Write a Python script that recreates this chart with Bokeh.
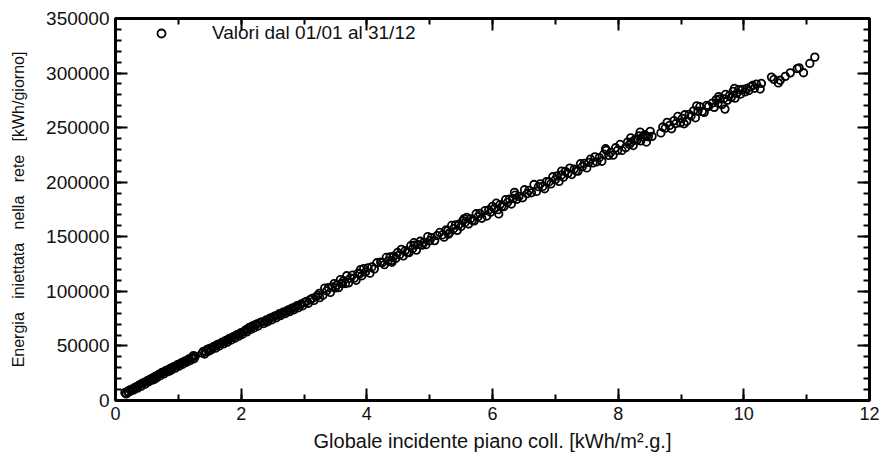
from bokeh.plotting import figure
from bokeh.models import (ColumnDataSource, LinearAxis, SingleIntervalTicker,
                          BasicTickFormatter, CustomJSTickFormatter, Range1d,
                          Legend, LegendItem)
from bokeh.embed import file_html
from bokeh.resources import INLINE

# ---- data (x: kWh/m2.g, y: kWh/giorno) ----
seg_a_x = [0.15,0.17,0.19,0.21,0.23,0.25,0.27,0.29,0.31,0.33,0.35,0.37,0.39,0.41,0.43,0.45,0.47,0.49,0.51,0.53,
           0.55,0.57,0.59,0.61,0.63,0.65,0.67,0.69,0.71,0.73,0.75,0.77,0.79,0.81,0.83,0.85,0.87,0.89,0.91,0.93,
           0.95,0.97,0.99,1.01,1.03,1.05,1.07,1.09,1.11,1.13,1.15,1.17,1.19,1.21,1.23,1.25,1.27,1.24,0.62,0.86]
seg_a_y = [7200,6100,8400,7600,9800,8900,10600,9700,11900,12400,11300,13800,14600,13100,15900,16200,15000,17600,18300,17100,
           19400,20100,18800,21200,22000,20700,23100,24000,22600,25200,25800,24400,26900,27600,26300,28400,29300,28000,30400,31000,
           29600,32100,32900,31500,33800,34600,33200,35700,36200,35000,37300,38100,36600,39000,39800,38200,40500,41200,19600,27100]

seg_b_x = [1.38,1.40,1.42,1.44,1.46,1.48,1.50,1.52,1.55,1.57,1.59,1.61,1.63,1.65,1.68,1.70,1.72,1.74,1.76,1.78,
           1.80,1.82,1.84,1.86,1.88,1.90,1.92,1.94,1.96,1.98,2.00,2.02,2.05,2.07,2.09,2.11,2.13,2.15,2.17,2.19,
           2.21,2.23,2.25,2.27,2.30,2.33,2.36]
seg_b_y = [43500,45100,42600,44800,46900,45200,47800,46400,48900,49600,47900,50800,51500,49900,52600,53400,51800,54300,55100,53500,
           56200,57000,55400,57900,58600,57100,59800,60400,58900,61300,62200,60700,63400,64600,62800,65700,67000,65100,67800,68500,
           66600,69400,70100,68200,71300,72000,70500]

seg_c_x = [2.38,2.40,2.42,2.45,2.47,2.49,2.52,2.54,2.56,2.59,2.61,2.63,2.66,2.68,2.70,2.73,2.75,2.77,2.80,2.82,
           2.84,2.87,2.89,2.91,2.94,2.96,2.98,3.01,3.04,3.07,3.10,3.13,3.16,3.19,3.22,3.25,3.24]
seg_c_y = [72600,73800,72100,74900,75600,74000,76900,77500,75800,78600,79500,77900,80400,81200,79600,82100,83000,81400,84200,84900,
           83100,85800,86900,85000,87700,88600,86800,89900,90800,89100,92400,93600,91700,95000,96300,94200,98100]

seg_d_x = [3.30,3.33,3.36,3.39,3.42,3.45,3.48,3.50,3.52,3.55,3.58,3.61,3.63,3.66,3.68,3.71,3.74,3.77,3.80,3.83,
           3.86,3.89,3.92,3.95,3.98,4.02,4.05,4.08,4.12,4.16,3.60,3.90]
seg_d_y = [96400,103000,100400,103400,99000,104000,107100,103200,105600,103400,110800,107000,109700,107200,114300,107800,112100,114800,112100,110100,
           116600,116200,114300,120900,117800,121600,116700,122400,120600,126200,107400,120000]

seg_e_x = [4.22,4.25,4.28,4.31,4.34,4.37,4.40,4.43,4.46,4.49,4.52,4.55,4.58,4.61,4.64,4.67,4.70,4.73,4.76,4.79,
           4.82,4.85,4.88,4.91,4.94,4.97,5.00,5.03,4.40,4.75]
seg_e_y = [126800,126400,124500,131100,128000,131500,126600,132300,130200,135600,133500,138500,132500,137200,135700,135400,141900,139200,142300,137800,
           142900,145900,142300,144900,142800,150200,146400,149300,128200,144600]

seg_f_x = [5.08,5.12,5.16,5.20,5.23,5.26,5.29,5.32,5.35,5.38,5.41,5.44,5.47,5.50,5.53,5.56,5.59,5.62,5.65,5.68,
           5.71,5.74,5.77,5.80,5.83,5.55,5.30]
seg_f_y = [146500,151100,154000,151700,149600,156200,155700,153900,160400,157400,160800,155900,161500,159500,164800,162800,167700,161700,166400,164900,
           164500,171100,168400,171400,167000,166700,152400]

seg_g_x = [5.88,5.91,5.94,5.97,6.00,6.03,6.06,6.09,6.12,6.15,6.18,6.21,6.24,6.27,6.30,6.33,6.36,6.39,6.42,6.10,6.35]
seg_g_y = [173900,169000,174600,172600,177900,175800,180800,174800,179400,178000,177600,184100,181500,184500,180000,185000,188100,184400,187000,170900,190700]

seg_h_x = [6.48,6.51,6.55,6.58,6.62,6.66,6.70,6.73,6.76,6.80,6.83,6.86,6.90,6.93,6.96,7.00,7.03,7.06,7.10,7.13,
           7.16,7.20,7.23,7.26,7.30,7.33,7.36,7.40,7.43,7.46,7.50,7.53,7.56,7.60,7.10]
seg_h_y = [185700,193100,189500,192500,190300,197900,191600,195900,198500,196100,194000,200600,200400,198500,205000,202300,205700,200800,206700,204600,
           209900,208100,213000,207000,211900,210400,210100,216900,214200,217200,213100,218100,221100,217700,210200]

seg_i_x = [7.63,7.66,7.70,7.74,7.77,7.81,7.85,7.88,7.92,7.96,7.99,8.03,8.06,7.80]
seg_i_y = [223200,218700,222600,219200,225700,229300,224600,227300,224800,231600,229100,234600,229100,230700]

seg_j_x = [8.12,8.15,8.18,8.21,8.24,8.27,8.30,8.33,8.36,8.39,8.42,8.45,8.48,8.51,8.54,8.35,8.20,8.45]
seg_j_y = [231700,236700,234600,236800,233600,239000,238500,242400,237800,241600,243500,242100,241600,246600,242000,245900,240600,236800]

seg_k_x = [8.68,8.71,8.75,8.78,8.82,8.85,8.89,8.92,8.95,8.99,9.02,9.06,9.09,9.13,9.16,9.20,9.23,9.27,9.30,9.34,
           9.37,9.41,9.44,9.05,9.25]
seg_k_y = [245200,250600,249500,254800,252000,249000,256400,253800,260300,254300,258400,261800,255800,262100,260600,265400,259000,265100,269200,264700,
           264000,270400,269500,253500,270000]

seg_l_x = [9.50,9.53,9.56,9.59,9.62,9.65,9.68,9.71,9.74,9.77,9.80,9.83,9.86,9.89,9.92,9.95,9.98,9.70,9.85,9.60]
seg_l_y = [272500,268600,275700,272400,276400,271100,276400,280400,275100,279200,277600,283200,277000,281500,284800,280800,285000,267000,285900,278400]

seg_m_x = [10.02,10.05,10.08,10.11,10.14,10.17,10.20,10.26,10.28,10.44,10.48,10.55,10.58,10.66,10.74,10.85,10.88,10.95,11.05,11.13]
seg_m_y = [282700,285900,284000,287400,288600,286100,289900,285400,290500,296300,294200,291000,293400,297000,300200,304100,304800,300300,308800,314600]

x_ticks_interval = 2
y_ticks_interval = 50000
legend_label = "Valori dal 01/01 al 31/12"
x_label = "Globale incidente piano coll. [kWh/m\u00b2.g.]"
y_label = "Energia\u00a0\u00a0\u00a0iniettata\u00a0\u00a0\u00a0nella\u00a0\u00a0\u00a0rete\u00a0\u00a0\u00a0[kWh/giorno]"

xs = (seg_a_x + seg_b_x + seg_c_x + seg_d_x + seg_e_x + seg_f_x + seg_g_x +
      seg_h_x + seg_i_x + seg_j_x + seg_k_x + seg_l_x + seg_m_x)
ys = (seg_a_y + seg_b_y + seg_c_y + seg_d_y + seg_e_y + seg_f_y + seg_g_y +
      seg_h_y + seg_i_y + seg_j_y + seg_k_y + seg_l_y + seg_m_y)

src = ColumnDataSource(data=dict(x=xs, y=ys))

FONT = "Liberation Sans"

p = figure(frame_width=754, frame_height=382,
           x_range=Range1d(0, 12), y_range=Range1d(0, 350000),
           output_backend="svg", toolbar_location=None,
           min_border_left=115, min_border_right=13,
           min_border_top=18, min_border_bottom=57)
p.xgrid.visible = False
p.ygrid.visible = False
p.outline_line_color = "black"
p.outline_line_width = 3
p.background_fill_color = "white"
p.border_fill_color = "white"

r = p.scatter(x="x", y="y", source=src, marker="circle", size=7.5,
              fill_color=None, line_color="black", line_width=1.8)


def style(ax, labels=True, font_size="18px"):
    ax.axis_line_color = "black"
    ax.axis_line_width = 3
    ax.major_tick_in = 12
    ax.major_tick_out = 0
    ax.minor_tick_in = 6
    ax.minor_tick_out = 0
    ax.major_tick_line_color = "black"
    ax.minor_tick_line_color = "black"
    ax.major_tick_line_width = 2
    ax.minor_tick_line_width = 2
    if labels:
        ax.major_label_text_font = FONT
        ax.major_label_text_font_size = font_size
        ax.major_label_text_color = "#111111"
        ax.major_label_standoff = 6
    else:
        ax.formatter = CustomJSTickFormatter(code="return ''")
        ax.major_label_standoff = 0


xt = SingleIntervalTicker(interval=x_ticks_interval, num_minor_ticks=2)
yt = SingleIntervalTicker(interval=y_ticks_interval, num_minor_ticks=5)
fmt = BasicTickFormatter(use_scientific=False)

xa = p.xaxis[0]
xa.ticker = xt
style(xa, True, "18px")
xa.axis_label = x_label
xa.axis_label_text_font = FONT
xa.axis_label_text_font_size = "20px"
xa.axis_label_text_font_style = "normal"
xa.axis_label_text_color = "#111111"
xa.axis_label_standoff = 7

ya = p.yaxis[0]
ya.ticker = yt
ya.formatter = fmt
style(ya, True, "19px")
ya.axis_label = y_label
ya.axis_label_text_font = FONT
ya.axis_label_text_font_size = "16px"
ya.axis_label_text_font_style = "normal"
ya.axis_label_text_color = "#111111"
ya.axis_label_standoff = 16

top = LinearAxis(ticker=SingleIntervalTicker(interval=x_ticks_interval, num_minor_ticks=2))
style(top, False)
p.add_layout(top, "above")
right = LinearAxis(ticker=SingleIntervalTicker(interval=y_ticks_interval, num_minor_ticks=5))
style(right, False)
p.add_layout(right, "right")

legend = Legend(items=[LegendItem(label=legend_label, renderers=[r])],
                location=(36, 356), border_line_color=None,
                background_fill_alpha=0, padding=0, margin=0,
                label_standoff=41, label_text_font=FONT,
                label_text_font_size="19px", label_text_color="#111111",
                glyph_width=20, glyph_height=20)
p.add_layout(legend)

open("out.html", "w").write(file_html(p, INLINE))
